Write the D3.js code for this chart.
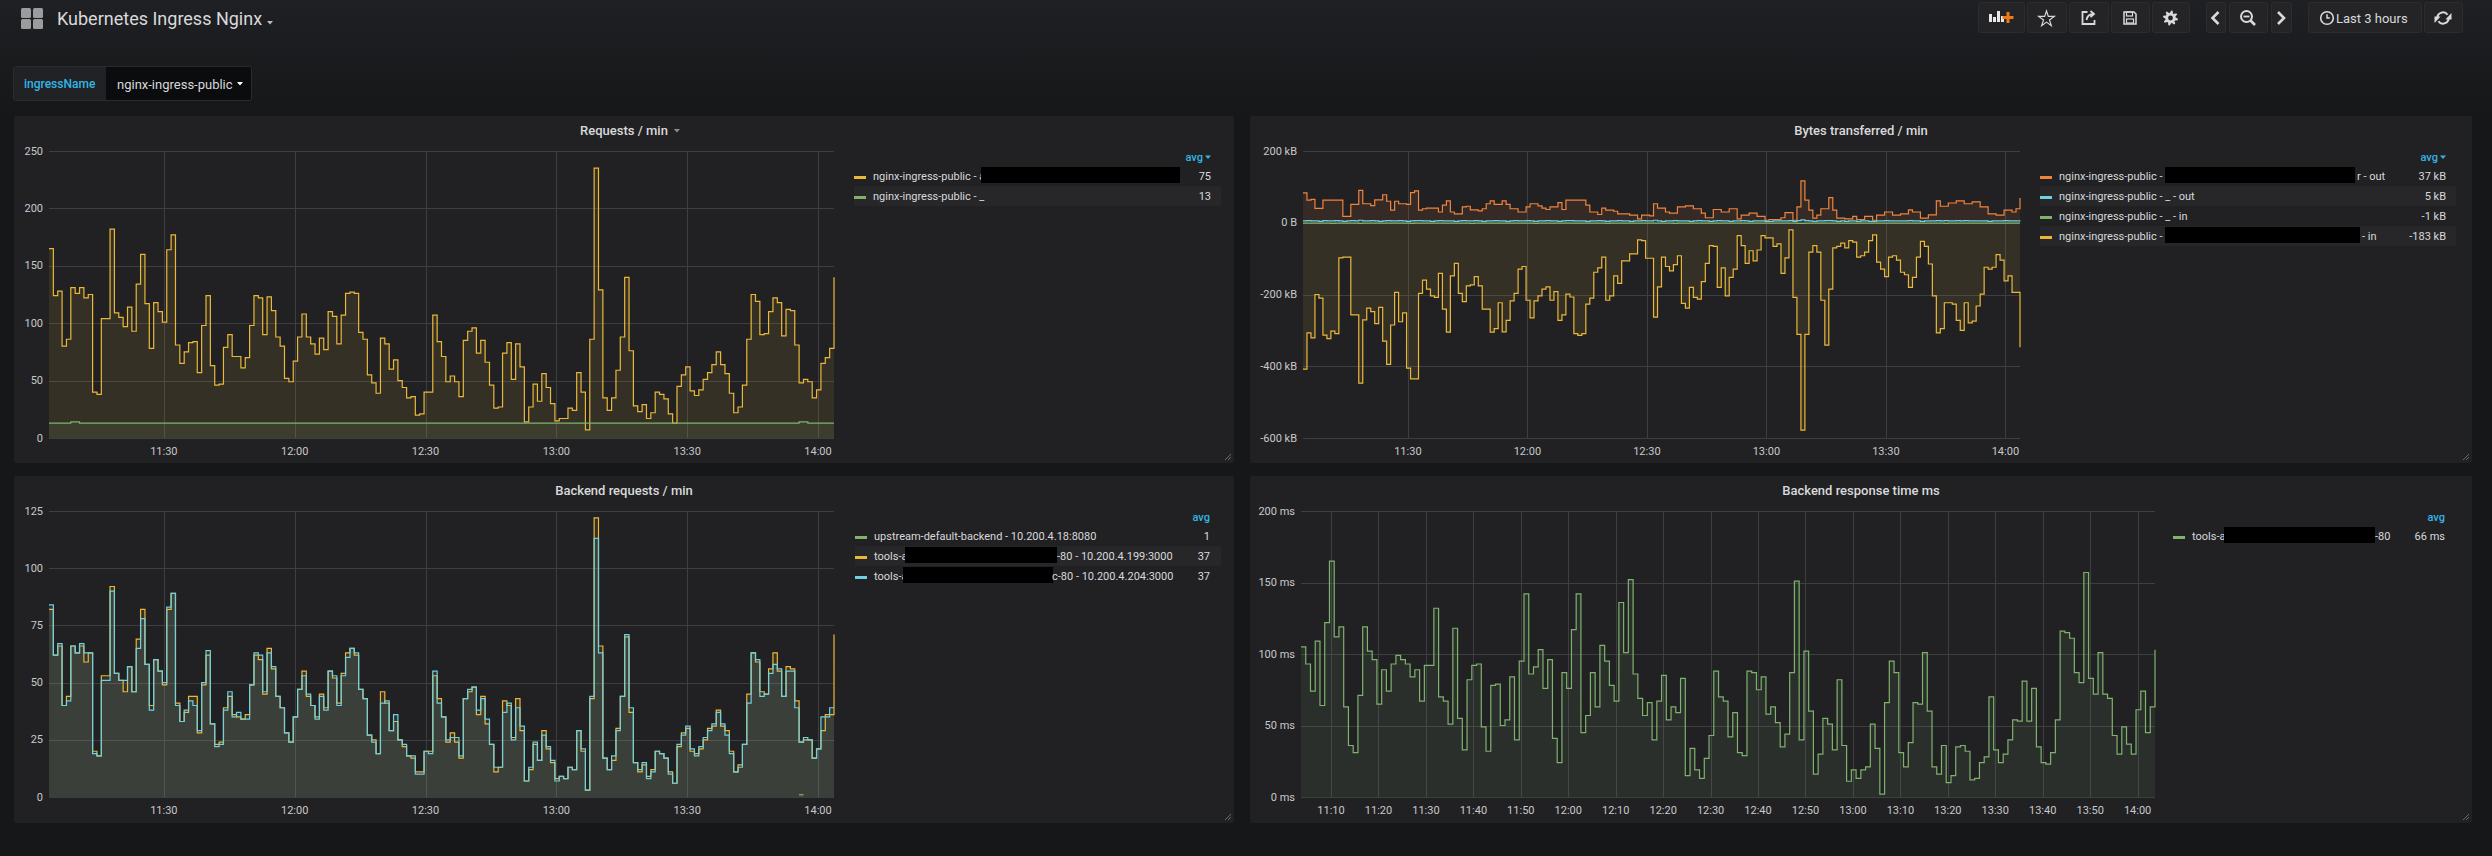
<!DOCTYPE html>
<html>
<head>
<meta charset="utf-8">
<script src="https://cdn.jsdelivr.net/npm/d3@7"></script>
<style>
  html, body { margin: 0; padding: 0; background: #161719; }
  svg { display: block; font-family: Roboto, "Helvetica Neue", Arial, sans-serif; }
</style>
</head>
<body>
<svg id="dash" width="2492" height="856"></svg>
<script>
// ---- data (one value per minute, 11:03:40 .. 14:03:40) ----
const reqPublicA = [
  165,124,128,80,86,131,126,131,122,125, 40,38,104,104,182,109,105,97,114,93,
  134,160,117,78,118,110,101,164,177,81, 65,75,83,84,57,98,124,63,46,47,
  79,90,71,71,61,70,98,124,122,90, 123,111,88,80,52,49,67,88,108,88,
  82,73,87,77,110,106,82,107,126,127, 126,92,86,55,48,39,87,82,60,68,
  50,44,35,36,20,21,40,40,107,84, 71,49,54,49,36,85,93,96,74,85,
  66,46,26,27,74,83,51,82,62,14, 27,47,32,56,44,30,15,17,17,26,
  24,57,40,7,86,235,129,35,24,35, 59,88,140,76,28,23,29,17,22,40,
  38,34,21,13,45,55,62,41,37,42, 51,57,64,75,64,56,39,22,27,46,
  86,125,119,90,91,110,122,118,89,112, 111,81,48,51,49,35,42,65,70,78,
  140
];
const reqPublicDefault = [
  13,13,13,13,13,14,14,13,13,13, 13,13,13,13,13,13,13,13,13,13,
  13,13,13,13,13,13,13,13,13,13, 13,13,13,13,13,13,13,13,13,13,
  13,13,13,13,13,13,13,13,13,13, 13,13,13,13,13,13,13,13,13,13,
  13,13,13,13,13,13,13,13,13,13, 13,13,13,13,13,13,13,13,13,13,
  13,13,13,13,13,13,13,13,13,13, 13,13,13,13,13,13,13,13,13,13,
  13,13,13,13,13,13,13,13,13,13, 13,13,13,13,13,13,13,13,13,13,
  13,13,13,13,13,13,13,13,13,13, 13,13,13,13,13,13,13,13,13,13,
  13,13,13,13,13,13,13,13,13,13, 13,13,13,13,13,13,13,13,13,13,
  13,13,13,13,13,13,13,13,13,13, 13,13,14,14,13,13,13,13,13,13,
  13
];

// bytes per minute, kB (in = negative)
const bytesOutA = [
  83,63,65,40,40,63,63,63,63,63, 18,18,51,51,90,53,53,48,64,64,
  78,60,35,60,53,53,51,84,89,35, 39,41,41,41,30,49,61,30,25,25,
  44,46,36,36,33,39,53,61,51,51, 61,51,39,39,30,30,44,53,53,47,
  41,37,44,44,56,37,63,63,63,63, 63,49,30,30,23,41,35,35,32,25,
  25,25,21,21,11,21,21,19,53,41, 41,30,27,27,44,44,47,47,39,39,
  27,14,14,37,37,30,30,39,39,11, 21,21,27,27,18,18,7,9,9,9,
  14,28,28,7,44,117,63,35,13,21, 39,39,70,35,13,13,11,11,18,9,
  9,18,18,7,21,21,30,30,21,21, 25,25,36,30,30,13,13,22,22,61,
  46,46,55,55,61,61,53,53,58,58, 44,44,25,25,21,21,35,35,30,39,
  69
];
const bytesOutDefault = [
  5,6,5,5,4,6,5,5,6,5, 4,5,6,5,7,5,5,6,5,4,
  5,6,5,5,6,5,4,5,6,6, 5,5,4,5,6,5,5,5,4,5,
  6,5,5,6,5,4,5,5,6,5, 5,4,5,6,5,5,6,5,4,5,
  5,6,5,5,4,5,6,6,5,5, 5,4,5,5,6,5,4,5,5,6,
  5,5,4,5,5,6,5,5,7,5, 4,5,5,6,5,5,5,4,5,6,
  5,5,4,5,6,5,5,4,5,5, 6,5,4,5,5,5,4,4,5,5,
  5,5,6,4,6,8,6,5,4,5, 5,6,6,5,4,5,4,5,5,4,
  5,5,4,4,5,5,6,5,5,5, 5,5,6,5,5,4,5,5,5,6,
  5,6,5,5,6,5,6,5,5,5, 5,5,4,5,5,5,6,5,5,5,
  6
];
const bytesInDefault = [
  -1,-1,-1,-1,-1,-1,-1,-2,-1,-1, -1,-1,-1,-1,-2,-1,-1,-1,-1,-1,
  -1,-1,-1,-1,-1,-1,-1,-2,-1,-1, -1,-1,-1,-1,-1,-1,-1,-1,-1,-1,
  -1,-1,-2,-1,-1,-1,-1,-1,-1,-1, -1,-1,-1,-1,-1,-1,-1,-1,-2,-1,
  -1,-1,-1,-1,-1,-1,-1,-1,-1,-1, -1,-1,-1,-1,-1,-1,-2,-1,-1,-1,
  -1,-1,-1,-1,-1,-1,-1,-1,-1,-1, -1,-1,-1,-2,-1,-1,-1,-1,-1,-1,
  -1,-1,-1,-1,-1,-1,-1,-1,-1,-1, -1,-1,-1,-1,-1,-1,-1,-1,-1,-1,
  -1,-1,-1,-1,-2,-2,-1,-1,-1,-1, -1,-1,-1,-1,-1,-1,-1,-1,-1,-1,
  -1,-1,-1,-1,-1,-1,-1,-1,-1,-1, -1,-1,-1,-1,-1,-1,-1,-1,-1,-1,
  -1,-2,-1,-1,-1,-1,-1,-1,-1,-1, -1,-1,-1,-1,-1,-1,-1,-1,-1,-1,
  -1
];
const bytesInA = [
  -408,-307,-321,-200,-210,-313,-323,-302,-309,-98, -96,-96,-257,-257,-447,-271,-238,-248,-281,-236,
  -330,-395,-285,-194,-276,-251,-405,-435,-435,-197, -160,-185,-204,-208,-141,-241,-305,-148,-113,-197,
  -220,-176,-173,-150,-176,-241,-241,-305,-295,-223, -304,-272,-218,-197,-129,-122,-216,-265,-218,-204,
  -185,-179,-216,-192,-272,-257,-199,-207,-309,-314, -309,-227,-210,-138,-126,-96,-216,-204,-148,-169,
  -106,-106,-87,-87,-48,-50,-99,-99,-263,-179, -96,-122,-134,-117,-92,-225,-238,-180,-208,-213,
  -164,-113,-64,-66,-180,-126,-204,-152,-129,-36, -64,-113,-78,-106,-76,-36,-42,-42,-66,-59,
  -141,-98,-20,-208,-311,-578,-311,-82,-64,-82, -216,-341,-185,-70,-66,-57,-70,-50,-54,-96,
  -92,-82,-50,-34,-110,-129,-150,-96,-92,-104, -138,-145,-180,-152,-96,-52,-66,-115,-204,-307,
  -295,-223,-223,-227,-272,-300,-223,-279,-274,-232, -199,-124,-129,-124,-89,-104,-162,-148,-194,-194,
  -347
];

// backend requests per minute
const backendDefaultIdx = [172, 173];
const backendDefault = [1, 1];
const backend199 = [
  82,62,66,40,44,66,63,66,59,63, 20,18,53,53,92,54,51,46,57,46,
  69,82,58,40,60,55,49,82,89,41, 33,37,44,44,28,49,62,32,23,24,
  39,44,36,35,34,36,49,62,60,45, 65,56,44,39,28,24,35,47,55,44,
  40,35,45,39,55,52,41,54,63,65, 62,47,43,27,25,19,46,41,29,33,
  25,22,18,17,11,11,20,20,53,43, 35,24,28,24,17,43,46,48,36,44,
  32,23,11,13,42,40,26,43,29,7, 12,23,16,29,21,15,8,9,8,13,
  12,29,20,3,43,122,66,17,12,16, 30,44,70,37,15,11,14,9,12,20,
  19,17,11,6,22,28,30,20,19,21, 25,30,31,38,31,29,20,11,14,23,
  45,63,59,46,45,56,63,55,44,57, 56,42,24,25,25,17,21,29,36,36,
  71
];
const backend204 = [
  84,62,67,40,42,66,63,67,63,63, 19,18,51,51,90,54,51,51,57,46,
  65,78,58,38,60,55,50,83,89,40, 33,38,42,40,29,50,64,32,22,23,
  38,46,35,37,34,34,49,63,62,46, 63,57,44,39,28,24,35,47,53,45,
  40,34,44,38,55,53,40,53,61,65, 63,47,43,27,24,19,41,42,29,36,
  25,23,18,18,10,10,20,19,55,41, 35,25,26,26,18,43,47,48,38,43,
  34,23,13,13,37,41,25,39,31,7, 13,24,16,27,22,16,7,9,8,13,
  12,29,21,3,44,113,63,17,12,18, 29,44,71,39,15,12,15,8,11,20,
  19,17,10,6,23,27,31,21,18,22, 26,29,32,37,32,27,19,11,13,23,
  41,63,60,44,45,54,58,56,44,55, 55,39,24,26,25,17,21,35,35,39,
  39
];

// backend response time, ms
const responseTime = [
  105,93,74,109,64,122,165,112,119,63, 36,31,71,119,102,96,65,89,74,93,
  99,96,93,84,89,67,92,92,132,70, 67,51,118,55,33,82,92,93,49,32,
  78,79,50,54,84,40,95,142,86,91, 103,76,96,41,24,87,76,117,142,45,
  57,87,63,106,95,78,67,136,101,152, 86,69,57,66,40,67,85,54,63,59,
  83,15,34,19,13,27,43,88,70,67, 42,59,31,29,88,87,75,84,58,63,
  52,35,44,87,151,40,102,60,16,30, 55,51,33,82,36,11,19,13,19,21,
  51,34,2,66,95,87,31,21,38,66, 65,101,60,21,16,36,10,15,35,36,
  32,12,13,24,28,70,33,24,30,40, 54,53,81,53,76,35,24,23,31,54,
  116,115,111,87,80,157,83,72,101,72, 69,43,30,49,37,30,61,74,45,63,
  103
];

// axis ticks
const reqTicks = [0, 50, 100, 150, 200, 250];
const bytesTicks = [200, 0, -200, -400, -600];
const backendTicks = [0, 25, 50, 75, 100, 125];
const respTicks = [0, 50, 100, 150, 200];

// legend texts
const reqLegend = ['nginx-ingress-public - a', 'nginx-ingress-public - _'];
const reqAvg = ['75', '13'];
const bytesLegend = ['nginx-ingress-public - ', 'nginx-ingress-public - _ - out', 'nginx-ingress-public - _ - in', 'nginx-ingress-public - '];
const bytesLegendTail = ['r - out', '', '', '- in'];
const bytesAvg = ['37 kB', '5 kB', '-1 kB', '-183 kB'];
const backendLegend = ['upstream-default-backend - 10.200.4.18:8080', 'tools-a', 'tools-a'];
const backendLegendTail = ['', '-80 - 10.200.4.199:3000', 'c-80 - 10.200.4.204:3000'];
const backendAvg = ['1', '37', '37'];
const respLegend = ['tools-a'];
const respLegendTail = ['-80'];
const respAvg = ['66 ms'];

const YELLOW = '#eab839', GREEN = '#7eb26d', CYAN = '#6ed0e0', ORANGE = '#ef843c';
const PANEL_BG = '#212124', TEXT = '#d8d9da', GRID = '#3e3e41', TICK = '#c8c9ca', BLUE = '#33b5e5';

const t0 = new Date(2018, 5, 12, 11, 3, 40);
const t1 = new Date(2018, 5, 12, 14, 3, 40);
const times = reqPublicA.map((_, i) => d3.timeMinute.offset(t0, i));

const svg = d3.select('#dash');
const W = 2492, H = 856;

// ---- page background ----
const defs = svg.append('defs');
const grad = defs.append('linearGradient').attr('id', 'topbg')
  .attr('x1', 0).attr('y1', 0).attr('x2', 0).attr('y2', 1);
grad.append('stop').attr('offset', '0%').attr('stop-color', '#1f2023');
grad.append('stop').attr('offset', '100%').attr('stop-color', '#161719');
svg.append('rect').attr('width', W).attr('height', H).attr('fill', '#161719');
svg.append('rect').attr('width', W).attr('height', 116).attr('fill', 'url(#topbg)');

// ---- header ----
const head = svg.append('g');
[[21, 8], [33, 8], [21, 19], [33, 19]].forEach(([x, y]) => {
  head.append('rect').attr('x', x).attr('y', y).attr('width', 10).attr('height', 10)
    .attr('rx', 1.5).attr('fill', '#9b9c9e');
});
head.append('text').attr('x', 57).attr('y', 25).attr('font-size', 18).attr('fill', TEXT)
  .text('Kubernetes Ingress Nginx');
head.append('path').attr('d', 'M267,21 l6,0 l-3,3.5 z').attr('fill', '#bbbbbb');

// header buttons
const buttons = [
  {x: 1978, w: 46, icon: 'add'}, {x: 2027, w: 39, icon: 'star'}, {x: 2069, w: 39, icon: 'share'},
  {x: 2111, w: 38, icon: 'save'}, {x: 2152, w: 37, icon: 'gear'}, {x: 2206, w: 19, icon: 'prev'},
  {x: 2229, w: 38, icon: 'zoom'}, {x: 2271, w: 20, icon: 'next'}, {x: 2308, w: 113, icon: 'time'},
  {x: 2424, w: 38, icon: 'refresh'}
];
const BTN_BG = '#242427';
buttons.forEach(b => {
  const g = head.append('g');
  g.append('rect').attr('x', b.x + 0.5).attr('y', 2.5).attr('width', b.w).attr('height', 30)
    .attr('rx', 2).attr('fill', BTN_BG).attr('stroke', '#2c2c30');
  const cx = b.x + b.w / 2, cy = 18;
  const ic = g.append('g').attr('transform', `translate(${cx},${cy})`);
  if (b.icon === 'add') {
    [[-12, -2, 8], [-8, 1, 5], [-4, -5, 11], [0, 0, 6]].forEach(([x, y, h]) => {
      ic.append('rect').attr('x', x).attr('y', y - 2).attr('width', 3).attr('height', h).attr('fill', '#e8e8e8');
    });
    ic.append('rect').attr('x', 5.5).attr('y', -6).attr('width', 3).attr('height', 11).attr('fill', '#eb7b18');
    ic.append('rect').attr('x', 1.5).attr('y', -2).attr('width', 11).attr('height', 3).attr('fill', '#eb7b18');
  } else if (b.icon === 'star') {
    ic.append('path').attr('d', d3.symbol(d3.symbolStar, 75)()).attr('transform', 'translate(0,1)')
      .attr('fill', 'none').attr('stroke', TEXT).attr('stroke-width', 1.2);
  } else if (b.icon === 'share') {
    ic.append('path').attr('d', 'M-1,-6 H-6 V6 H6 V2').attr('fill', 'none').attr('stroke', TEXT).attr('stroke-width', 1.8);
    ic.append('path').attr('d', 'M-2,2 Q-1,-4 5,-4 M2,-7 L5.5,-4 L2,-1').attr('fill', 'none').attr('stroke', TEXT).attr('stroke-width', 1.8);
  } else if (b.icon === 'save') {
    ic.append('path').attr('d', 'M-6,-6 H4 L6,-4 V6 H-6 Z').attr('fill', 'none').attr('stroke', TEXT).attr('stroke-width', 1.5);
    ic.append('rect').attr('x', -3.5).attr('y', -6).attr('width', 6).attr('height', 4).attr('fill', 'none').attr('stroke', TEXT).attr('stroke-width', 1.2);
    ic.append('rect').attr('x', -3.5).attr('y', 1).attr('width', 7).attr('height', 4).attr('fill', 'none').attr('stroke', TEXT).attr('stroke-width', 1.2);
  } else if (b.icon === 'gear') {
    const radii = [7.5, 7.5, 5.2, 5.2];
    const pts = d3.range(32).map(k => [k * Math.PI / 16 + Math.PI / 32, radii[k % 4]]);
    ic.append('path').attr('d', d3.lineRadial().curve(d3.curveLinearClosed)(pts)).attr('fill', TEXT);
    ic.append('circle').attr('r', 2.4).attr('fill', BTN_BG);
  } else if (b.icon === 'prev' || b.icon === 'next') {
    const d = b.icon === 'prev' ? 'M3,-6 L-3,0 L3,6' : 'M-3,-6 L3,0 L-3,6';
    ic.append('path').attr('d', d).attr('fill', 'none').attr('stroke', TEXT).attr('stroke-width', 2.6);
  } else if (b.icon === 'zoom') {
    ic.append('circle').attr('cx', -1.5).attr('cy', -1.5).attr('r', 5.5).attr('fill', 'none').attr('stroke', TEXT).attr('stroke-width', 2);
    ic.append('path').attr('d', 'M2.5,2.5 L7,7').attr('stroke', TEXT).attr('stroke-width', 2.6);
    ic.append('path').attr('d', 'M-4.5,-1.5 H1.5').attr('stroke', TEXT).attr('stroke-width', 1.8);
  } else if (b.icon === 'time') {
    ic.attr('transform', `translate(${b.x + 19},${cy})`);
    ic.append('circle').attr('r', 6.3).attr('fill', 'none').attr('stroke', TEXT).attr('stroke-width', 1.6);
    ic.append('path').attr('d', 'M0,-3.8 V0 H2.8').attr('fill', 'none').attr('stroke', TEXT).attr('stroke-width', 1.5);
    g.append('text').attr('x', b.x + 28).attr('y', cy).attr('dominant-baseline', 'central')
      .attr('font-size', 13).attr('fill', TEXT).text('Last 3 hours');
  } else if (b.icon === 'refresh') {
    const arc = d3.arc().innerRadius(4.6).outerRadius(6.6);
    ic.append('path').attr('d', arc({startAngle: -1.75, endAngle: 0.95})).attr('fill', TEXT);
    ic.append('path').attr('d', arc({startAngle: 1.4, endAngle: 4.1})).attr('fill', TEXT);
    ic.append('path').attr('d', 'M8.5,-5 L8.5,1.5 L2.5,1.5 Z').attr('fill', TEXT);
    ic.append('path').attr('d', 'M-8.5,5 L-8.5,-1.5 L-2.5,-1.5 Z').attr('fill', TEXT);
  }
});

// ---- template variable ----
const vg = svg.append('g');
vg.append('rect').attr('x', 13.5).attr('y', 66.5).attr('width', 238).attr('height', 34).attr('rx', 2)
  .attr('fill', '#0b0c0e').attr('stroke', '#2a2b2e');
vg.append('rect').attr('x', 14).attr('y', 67).attr('width', 92).attr('height', 33).attr('fill', '#212225');
vg.append('text').attr('x', 24).attr('y', 84).attr('dominant-baseline', 'central')
  .attr('font-size', 12).attr('font-weight', 500).attr('fill', BLUE).text('ingressName');
vg.append('text').attr('x', 117).attr('y', 84).attr('dominant-baseline', 'central')
  .attr('font-size', 13).attr('fill', TEXT).text('nginx-ingress-public');
vg.append('path').attr('d', 'M237,82 l6,0 l-3,3.5 z').attr('fill', '#ffffff');

// ---- panels ----
const panels = [
  {
    x: 14, y: 116, w: 1220, h: 347, title: 'Requests / min', caret: true,
    plot: {l: 49, r: 834, t: 151, b: 438}, yDomain: [0, 250], yTicks: reqTicks, yFmt: d => d, xEvery: 30,
    series: [
      {values: reqPublicA, color: YELLOW},
      {values: reqPublicDefault, color: GREEN}
    ],
    legend: {swatch: 854, text: 873, right: 1211, header: 157, row0: 176, bgR: 1221, caret: true,
      names: reqLegend, tails: ['', ''], avg: reqAvg,
      redact: [[981, 1180], null], tailX: [0, 0]}
  },
  {
    x: 1250, y: 116, w: 1222, h: 347, title: 'Bytes transferred / min', caret: false,
    plot: {l: 1303, r: 2020, t: 151, b: 438}, yDomain: [-600, 200], yTicks: bytesTicks,
    yFmt: d => d === 0 ? '0 B' : d + ' kB', xEvery: 30,
    series: [
      {values: bytesOutA, color: ORANGE},
      {values: bytesOutDefault, color: CYAN},
      {values: bytesInDefault, color: GREEN},
      {values: bytesInA, color: YELLOW}
    ],
    legend: {swatch: 2040, text: 2059, right: 2446, header: 157, row0: 176, bgR: 2456, caret: true,
      names: bytesLegend, tails: bytesLegendTail, avg: bytesAvg,
      redact: [[2165, 2355], null, null, [2165, 2360]], tailX: [2357, 0, 0, 2362]}
  },
  {
    x: 14, y: 476, w: 1220, h: 347, title: 'Backend requests / min', caret: false,
    plot: {l: 49, r: 834, t: 511, b: 797}, yDomain: [0, 125], yTicks: backendTicks, yFmt: d => d, xEvery: 30,
    series: [
      {values: backendDefault, idx: backendDefaultIdx, color: GREEN},
      {values: backend199, color: YELLOW},
      {values: backend204, color: CYAN}
    ],
    legend: {swatch: 855, text: 874, right: 1210, header: 517, row0: 536, bgR: 1221, caret: false,
      names: backendLegend, tails: backendLegendTail, avg: backendAvg,
      redact: [null, [905, 1057], [903, 1053]], tailX: [0, 1057, 1052]}
  },
  {
    x: 1250, y: 476, w: 1222, h: 347, title: 'Backend response time ms', caret: false,
    plot: {l: 1301, r: 2155, t: 511, b: 797}, yDomain: [0, 200], yTicks: respTicks, yFmt: d => d + ' ms', xEvery: 10,
    series: [
      {values: responseTime, color: GREEN}
    ],
    legend: {swatch: 2173, text: 2192, right: 2445, header: 517, row0: 536, bgR: 2455, caret: false,
      names: respLegend, tails: respLegendTail, avg: respAvg,
      redact: [[2224, 2375]], tailX: [2375]}
  }
];

function drawPanel(p) {
  const g = svg.append('g');
  g.append('rect').attr('x', p.x).attr('y', p.y).attr('width', p.w).attr('height', p.h)
    .attr('rx', 2).attr('fill', PANEL_BG);

  // title
  const cx = p.x + p.w / 2;
  const title = g.append('text').attr('x', cx).attr('y', p.y + 14).attr('text-anchor', 'middle')
    .attr('dominant-baseline', 'central').attr('font-size', 13).attr('font-weight', 500)
    .attr('fill', TEXT).text(p.title);
  if (p.caret) {
    const bb = title.node().getBBox();
    g.append('path').attr('d', `M${bb.x + bb.width + 6},${p.y + 13} l6,0 l-3,3.5 z`).attr('fill', '#8e8e8e');
  }

  // resize handle
  const hx = p.x + p.w - 3, hy = p.y + p.h - 3;
  g.append('path').attr('d', `M${hx - 6},${hy} L${hx},${hy - 6} M${hx - 3},${hy} L${hx},${hy - 3}`)
    .attr('stroke', '#6a6a6d').attr('stroke-width', 1);

  const x = d3.scaleTime().domain([t0, t1]).range([p.plot.l, p.plot.r]);
  const y = d3.scaleLinear().domain(p.yDomain).range([p.plot.b, p.plot.t]);

  // grid
  g.append('g').selectAll('line').data(p.yTicks).join('line')
    .attr('x1', p.plot.l).attr('x2', p.plot.r)
    .attr('y1', d => Math.round(y(d)) + 0.5).attr('y2', d => Math.round(y(d)) + 0.5)
    .attr('stroke', GRID);
  const xt = x.ticks(d3.timeMinute.every(p.xEvery));
  g.append('g').selectAll('line').data(xt).join('line')
    .attr('x1', d => Math.round(x(d)) + 0.5).attr('x2', d => Math.round(x(d)) + 0.5)
    .attr('y1', p.plot.t).attr('y2', p.plot.b)
    .attr('stroke', GRID);

  // tick labels
  g.append('g').selectAll('text').data(p.yTicks).join('text')
    .attr('x', p.plot.l - 6).attr('y', d => y(d)).attr('text-anchor', 'end')
    .attr('dominant-baseline', 'central').attr('font-size', 11).attr('fill', TICK)
    .text(p.yFmt);
  const fmt = d3.timeFormat('%H:%M');
  g.append('g').selectAll('text').data(xt).join('text')
    .attr('x', d => x(d)).attr('y', p.plot.b + 13).attr('text-anchor', 'middle')
    .attr('dominant-baseline', 'central').attr('font-size', 11).attr('fill', TICK)
    .text(fmt);

  // series
  const pts = s => s.idx
    ? s.idx.map((k, j) => ({t: times[k], v: s.values[j]}))
    : s.values.map((v, i) => ({t: times[i], v}));
  const area = d3.area().defined(d => d.v != null).curve(d3.curveStepAfter)
    .x(d => x(d.t)).y0(y(0)).y1(d => y(d.v));
  const line = d3.line().defined(d => d.v != null).curve(d3.curveStepAfter)
    .x(d => x(d.t)).y(d => y(d.v));
  p.series.forEach(s => {
    g.append('path').attr('d', area(pts(s))).attr('fill', s.color).attr('fill-opacity', 0.1);
  });
  p.series.forEach(s => {
    g.append('path').attr('d', line(pts(s))).attr('fill', 'none')
      .attr('stroke', s.color).attr('stroke-width', 1.2);
  });

  // legend
  const L = p.legend;
  g.append('text').attr('x', L.caret ? L.right - 8 : L.right).attr('y', L.header)
    .attr('text-anchor', 'end').attr('dominant-baseline', 'central')
    .attr('font-size', 11).attr('font-weight', 500).attr('fill', BLUE).text('avg');
  if (L.caret) {
    g.append('path').attr('d', `M${L.right - 6},${L.header - 1.5} l6,0 l-3,3.5 z`).attr('fill', BLUE);
  }
  L.names.forEach((name, i) => {
    const yc = L.row0 + i * 20;
    if (i % 2 === 1) {
      g.append('rect').attr('x', L.swatch).attr('y', yc - 10).attr('width', L.bgR - L.swatch)
        .attr('height', 20).attr('fill', '#27272a');
    }
    g.append('rect').attr('x', L.swatch).attr('y', yc).attr('width', 12).attr('height', 3)
      .attr('fill', p.series[i].color);
    g.append('text').attr('x', L.text).attr('y', yc).attr('dominant-baseline', 'central')
      .attr('font-size', 11).attr('fill', TEXT).text(name);
    if (L.redact[i]) {
      const [r0, r1] = L.redact[i];
      g.append('rect').attr('x', r0).attr('y', yc - 9).attr('width', r1 - r0).attr('height', 16).attr('fill', '#000');
    }
    if (L.tails[i]) {
      g.append('text').attr('x', L.tailX[i]).attr('y', yc).attr('dominant-baseline', 'central')
        .attr('font-size', 11).attr('fill', TEXT).text(L.tails[i]);
    }
    g.append('text').attr('x', L.right).attr('y', yc).attr('text-anchor', 'end')
      .attr('dominant-baseline', 'central').attr('font-size', 11).attr('fill', TEXT).text(L.avg[i]);
  });
}

panels.forEach(drawPanel);
</script>
</body>
</html>
